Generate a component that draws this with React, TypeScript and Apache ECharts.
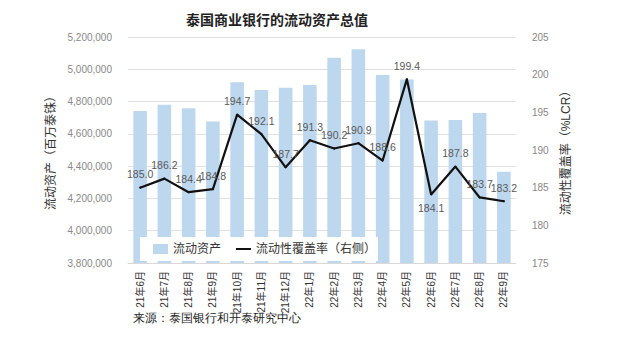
import React, { useEffect, useRef } from "react";
import * as echarts from "echarts";

const categories = ["21年6月", "21年7月", "21年8月", "21年9月", "21年10月", "21年11月", "21年12月", "22年1月", "22年2月", "22年3月", "22年4月", "22年5月", "22年6月", "22年7月", "22年8月", "22年9月"];
const assets = [4742000, 4780000, 4758000, 4676000, 4919000, 4872000, 4886000, 4903000, 5072000, 5124000, 4965000, 4936000, 4682000, 4686000, 4729000, 4366000];
const lcr = [185.0, 186.2, 184.4, 184.8, 194.7, 192.1, 187.7, 191.3, 190.2, 190.9, 188.6, 199.4, 184.1, 187.8, 183.7, 183.2];
const labelPos = ["top", "top", "top", "top", "top", "top", "top", "top", "top", "top", "top", "top", "bottom", "top", "top", "top"];

const FONT = "'Liberation Sans', 'Noto Sans CJK SC', sans-serif";

export default function App() {
  const ref = useRef<HTMLDivElement>(null);
  useEffect(() => {
    const chart = echarts.init(ref.current!, undefined, { renderer: "svg" });
    chart.setOption({
      animation: false,
      textStyle: { fontFamily: FONT },
      title: {
        text: "泰国商业银行的流动资产总值",
        top: 8,
        left: 272,
        textAlign: "center",
        textStyle: { fontSize: 14, fontWeight: "bold", color: "#222", fontFamily: FONT },
      },
      grid: { left: 128, right: 108, top: 37, bottom: 88 },
      legend: {
        left: 140,
        top: 237,
        backgroundColor: "#ffffff",
        padding: [6, 2, 6, 13],
        itemWidth: 15,
        itemHeight: 10,
        itemGap: 14,
        textStyle: { fontSize: 12, color: "#333", fontFamily: FONT },
        data: [
          { name: "流动资产", icon: "rect" },
          { name: "流动性覆盖率（右侧）", itemStyle: { opacity: 0 } },
        ],
      },
      xAxis: {
        type: "category",
        data: categories,
        axisLine: { lineStyle: { color: "#d9d9d9" } },
        axisTick: { show: false },
        axisLabel: { rotate: 90, fontSize: 10, color: "#333", margin: 8, interval: 0, fontFamily: FONT },
      },
      yAxis: [
        {
          type: "value",
          min: 3800000,
          max: 5200000,
          interval: 200000,
          name: "流动资产（百万泰铢）",
          nameLocation: "middle",
          nameGap: 57,
          nameTextStyle: { fontSize: 12, color: "#333", fontFamily: FONT },
          axisLabel: {
            fontSize: 10,
            color: "#888",
            margin: 16,
            formatter: (v: number) => v.toLocaleString("en-US"),
          },
          splitLine: { lineStyle: { color: "#e0e0e0" } },
          axisLine: { show: false },
          axisTick: { show: false },
        },
        {
          type: "value",
          min: 175,
          max: 205,
          interval: 5,
          name: "流动性覆盖率（%LCR）",
          nameLocation: "middle",
          nameRotate: 90,
          nameGap: 33,
          nameTextStyle: { fontSize: 12, color: "#333", fontFamily: FONT },
          axisLabel: { fontSize: 10, color: "#888", margin: 16 },
          splitLine: { show: false },
          axisLine: { show: false },
          axisTick: { show: false },
        },
      ],
      series: [
        {
          name: "流动资产",
          type: "bar",
          data: assets,
          barWidth: "56%",
          itemStyle: { color: "#bdd7ee" },
          z: 1,
        },
        {
          name: "流动性覆盖率（右侧）",
          type: "line",
          yAxisIndex: 1,
          data: lcr.map((v, i) => ({
            value: v,
            label: { position: labelPos[i] },
          })),
          symbol: "circle",
          symbolSize: 2,
          showSymbol: true,
          lineStyle: { color: "#111", width: 2.2 },
          itemStyle: { color: "#111" },
          label: {
            show: true,
            fontSize: 10.5,
            color: "#595959",
            distance: 7,
            formatter: (p: any) => Number(p.value).toFixed(1),
            fontFamily: FONT,
          },
          z: 3,
        },
      ],
      graphic: [
        {
          type: "text",
          left: 133,
          top: 312,
          style: { text: "来源：泰国银行和开泰研究中心", fontSize: 12, fill: "#222", font: `12px ${FONT}` },
        },
      ],
    });
    return () => chart.dispose();
  }, []);
  return <div ref={ref} style={{ width: 624, height: 351, margin: -8 }} />;
}
